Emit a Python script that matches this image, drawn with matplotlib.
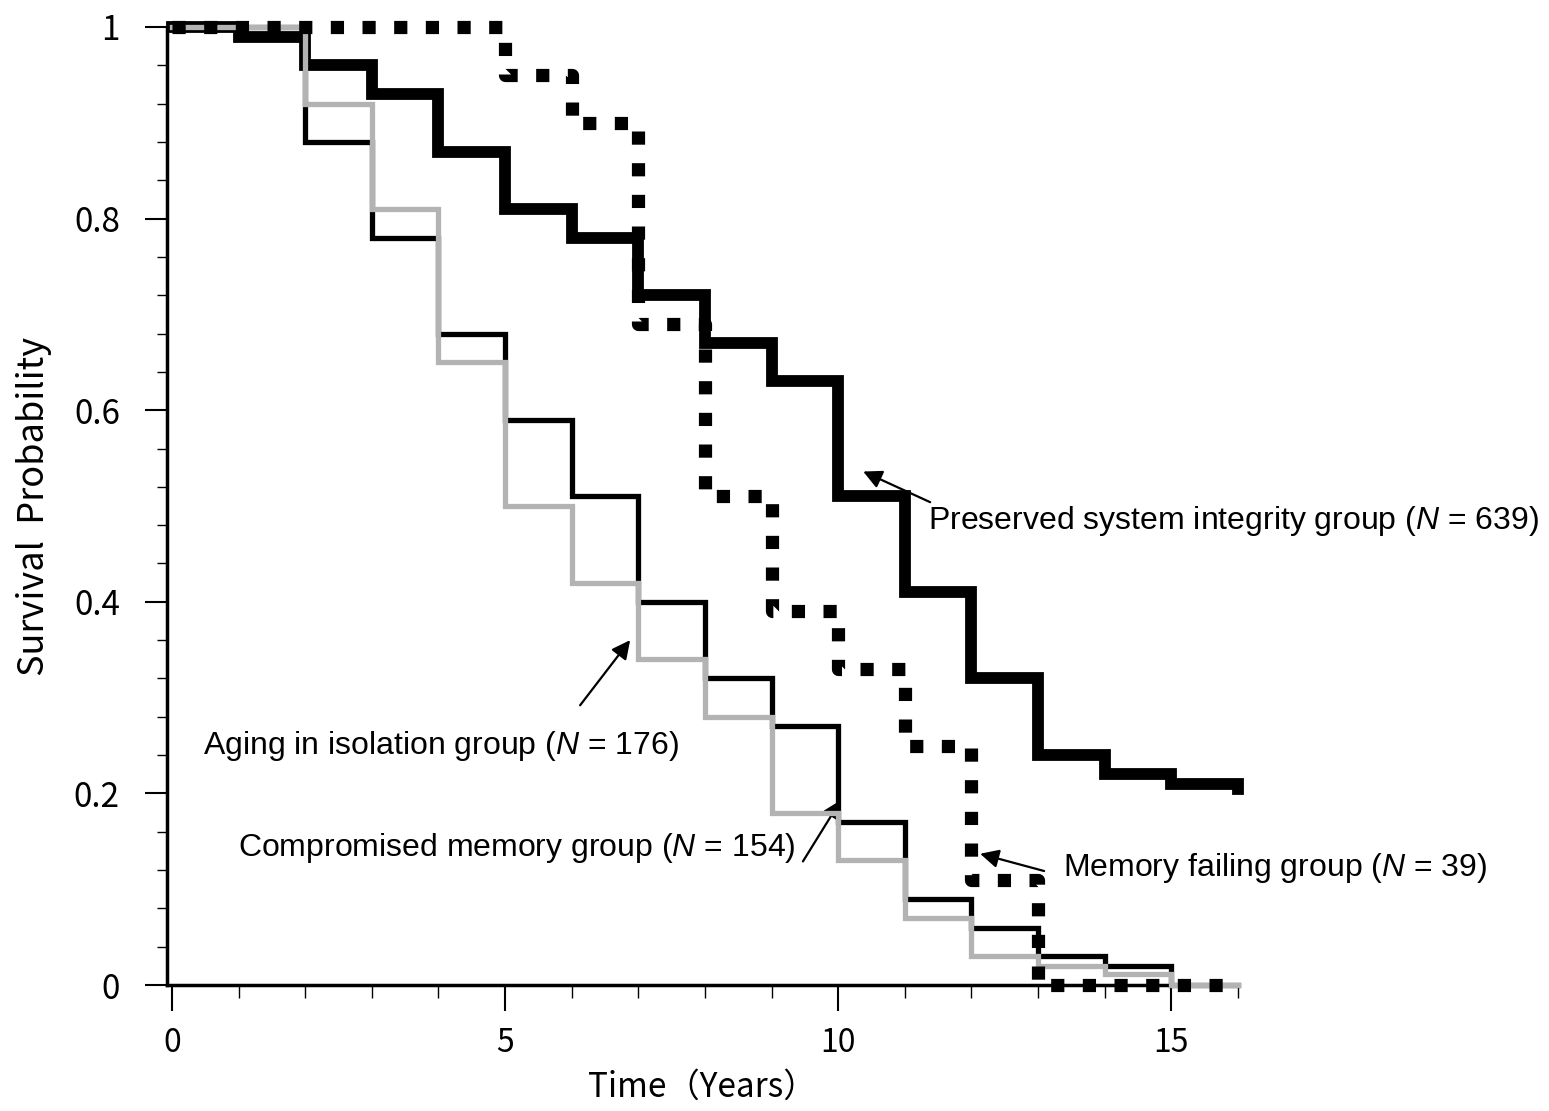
import numpy as np
import matplotlib
matplotlib.use("Agg")
import matplotlib.pyplot as plt
from matplotlib.ticker import MultipleLocator, FuncFormatter

plt.rcParams['font.family'] = ['Noto Sans CJK JP', 'DejaVu Sans']
plt.rcParams['mathtext.fontset'] = 'custom'
plt.rcParams['mathtext.it'] = 'Liberation Sans:italic'
plt.rcParams['mathtext.rm'] = 'Liberation Sans'

# Kaplan-Meier style step data
preserved_t = [0, 1, 2, 3, 4, 5, 6, 7, 8, 9, 10, 11, 12, 13, 14, 15, 16]
preserved_s = [1.0, 0.99, 0.96, 0.93, 0.87, 0.81, 0.78, 0.72, 0.67, 0.63,
               0.51, 0.41, 0.32, 0.24, 0.22, 0.21, 0.205]

compromised_t = [0, 2, 3, 4, 5, 6, 7, 8, 9, 10, 11, 12, 13, 14, 15, 16]
compromised_s = [1.0, 0.88, 0.78, 0.68, 0.59, 0.51, 0.40, 0.32, 0.27, 0.17,
                 0.09, 0.06, 0.03, 0.02, 0.0, 0.0]

aging_t = [0, 2, 3, 4, 5, 6, 7, 8, 9, 10, 11, 12, 13, 14, 15, 16]
aging_s = [1.0, 0.92, 0.81, 0.65, 0.50, 0.42, 0.34, 0.28, 0.18, 0.13,
           0.07, 0.03, 0.02, 0.012, 0.0, 0.0]

failing_t = [0, 5, 6, 7, 8, 9, 10, 11, 12, 13, 16]
failing_s = [1.0, 0.95, 0.90, 0.69, 0.51, 0.39, 0.33, 0.25, 0.11, 0.0, 0.0]

fig = plt.figure(figsize=(15.49, 11.11), dpi=100)
ax = fig.add_axes([0.1078, 0.1134, 0.6914, 0.8623])

ax.step(preserved_t, preserved_s, where='post', color='black', lw=8.5,
        solid_joinstyle='miter', clip_on=False, zorder=3)
ax.step(compromised_t, compromised_s, where='post', color='black', lw=3.8,
        solid_joinstyle='miter', clip_on=False, zorder=4)
ax.step(aging_t, aging_s, where='post', color='#b3b3b3', lw=3.8,
        solid_joinstyle='miter', clip_on=False, zorder=5)
ax.step(failing_t, failing_s, where='post', color='black', lw=9.5,
        linestyle=(0, (1, 1.4)), dash_capstyle='butt', clip_on=False, zorder=6)

ax.set_xlim(-0.075, 16)
ax.set_ylim(0, 1)

for side in ['top', 'right']:
    ax.spines[side].set_visible(False)
for side in ['left', 'bottom']:
    ax.spines[side].set_linewidth(2.5)

ax.xaxis.set_major_locator(MultipleLocator(5))
ax.xaxis.set_minor_locator(MultipleLocator(1))
ax.yaxis.set_major_locator(MultipleLocator(0.2))
ax.yaxis.set_minor_locator(MultipleLocator(0.04))
ax.yaxis.set_major_formatter(FuncFormatter(lambda v, p: f"{v:g}"))

ax.tick_params(axis='x', which='major', length=19, width=1.5, pad=11, labelsize=23)
ax.tick_params(axis='x', which='minor', length=9.5, width=1.0)
ax.tick_params(axis='y', which='major', length=16, width=1.5, pad=18, labelsize=24)
ax.tick_params(axis='y', which='minor', length=7.5, width=1.0)

ax.set_xlabel("Time（Years）", fontsize=24, labelpad=8)
ax.set_ylabel("Survival  Probability", fontsize=26, labelpad=16)

label_font = ['Liberation Sans', 'DejaVu Sans']
ax.text(11.35, 0.484, "Preserved system integrity group ($N$ = 639)",
        fontsize=23, family=label_font, ha='left', va='center')
ax.text(0.465, 0.249, "Aging in isolation group ($N$ = 176)",
        fontsize=23, family=label_font, ha='left', va='center')
ax.text(0.99, 0.143, "Compromised memory group ($N$ = 154)",
        fontsize=23, family=label_font, ha='left', va='center')
ax.text(13.38, 0.122, "Memory failing group ($N$ = 39)",
        fontsize=23, family=label_font, ha='left', va='center')

arrow = dict(arrowstyle='-|>', color='black', lw=1.6, mutation_scale=28,
             shrinkA=0, shrinkB=0)
ax.annotate('', xy=(10.375, 0.536), xytext=(11.38, 0.504), arrowprops=arrow)
ax.annotate('', xy=(6.877, 0.360), xytext=(6.126, 0.292), arrowprops=arrow)
ax.annotate('', xy=(10.04, 0.193), xytext=(9.47, 0.129), arrowprops=arrow)
ax.annotate('', xy=(12.13, 0.137), xytext=(13.09, 0.119), arrowprops=arrow)

fig.savefig("out.png", dpi=100)
